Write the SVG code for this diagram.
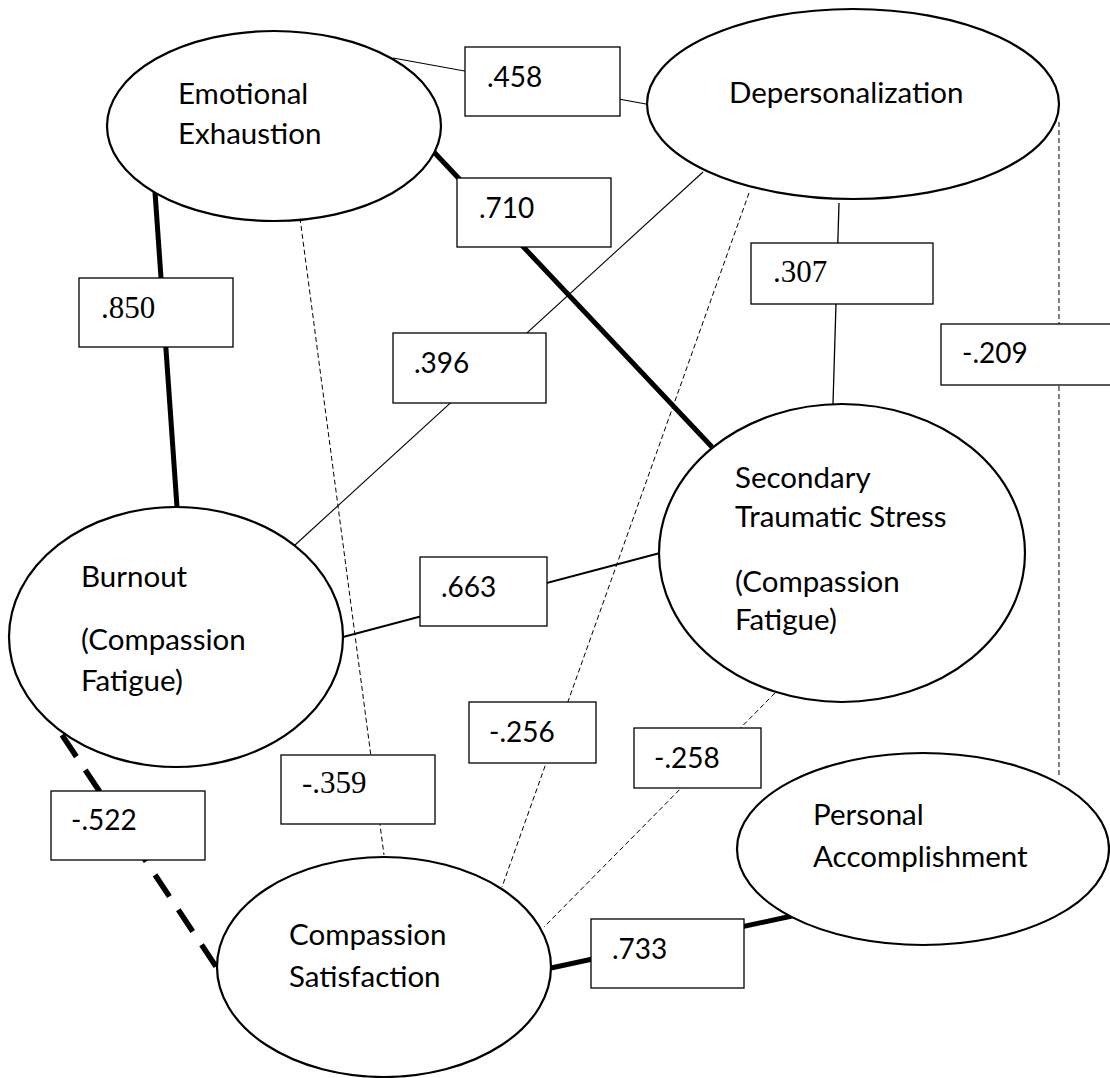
<svg xmlns="http://www.w3.org/2000/svg" width="1110" height="1078" viewBox="0 0 1110 1078">
<style>
.node{fill:#fff;stroke:#000;stroke-width:2.2}
.box{fill:#fff;stroke:#000;stroke-width:1.3}
.lbl{font-family:Lato,"Liberation Sans",sans-serif;font-size:29.5px;fill:#000}
.num{font-family:Lato,"Liberation Sans",sans-serif;font-size:28px;fill:#000}
.numt{font-family:"Liberation Serif","Times New Roman",serif;font-size:31px;fill:#000}
.thin{stroke:#000;stroke-width:1.1;fill:none}
.mid{stroke:#000;stroke-width:2;fill:none}
.thick{stroke:#000;stroke-width:5;fill:none}
.dash{stroke:#000;stroke-width:1;fill:none;stroke-dasharray:5 3}
.tdash{stroke:#000;stroke-width:5.5;fill:none;stroke-dasharray:26 16}
</style>
<rect width="1110" height="1078" fill="#fff"/>
<g id="connectors">
<line class="thin" x1="393" y1="58" x2="646" y2="104"/>
<line class="thick" x1="432" y1="150" x2="712" y2="447"/>
<line class="thick" x1="155" y1="192" x2="177" y2="507"/>
<line class="thin" x1="703" y1="172" x2="295" y2="545"/>
<line class="mid" x1="839" y1="203" x2="833" y2="404" style="stroke-width:1.3"/>
<line class="dash" x1="1059" y1="122" x2="1059" y2="778"/>
<line class="dash" x1="300" y1="218" x2="384" y2="855"/>
<line class="dash" x1="749" y1="193" x2="502" y2="887"/>
<line class="dash" x1="775" y1="693" x2="544" y2="927"/>
<line class="mid" x1="343" y1="637" x2="660" y2="553"/>
<line class="thick" x1="551" y1="968" x2="792" y2="916"/>
<line class="tdash" x1="62" y1="735" x2="217" y2="968"/>
</g>
<g id="emotional-exhaustion">
<ellipse class="node" cx="274" cy="126" rx="167" ry="95"/>
<text class="lbl" x="178" y="104">Emotional</text>
<text class="lbl" x="178" y="144">Exhaustion</text>
</g>
<g id="depersonalization">
<ellipse class="node" cx="853" cy="104" rx="206" ry="95"/>
<text class="lbl" x="729" y="103">Depersonalization</text>
</g>
<g id="secondary-traumatic-stress">
<ellipse class="node" cx="842" cy="553" rx="183" ry="149"/>
<text class="lbl" x="735" y="488">Secondary</text>
<text class="lbl" x="735" y="527">Traumatic Stress</text>
<text class="lbl" x="735" y="592">(Compassion</text>
<text class="lbl" x="735" y="630">Fatigue)</text>
</g>
<g id="burnout">
<ellipse class="node" cx="176" cy="637" rx="167" ry="130"/>
<text class="lbl" x="81" y="587">Burnout</text>
<text class="lbl" x="81" y="650">(Compassion</text>
<text class="lbl" x="81" y="691">Fatigue)</text>
</g>
<g id="compassion-satisfaction">
<ellipse class="node" cx="384" cy="967" rx="167" ry="110"/>
<text class="lbl" x="289" y="945">Compassion</text>
<text class="lbl" x="289" y="987">Satisfaction</text>
</g>
<g id="personal-accomplishment">
<ellipse class="node" cx="923" cy="849" rx="186" ry="96"/>
<text class="lbl" x="813" y="825">Personal</text>
<text class="lbl" x="813" y="867">Accomplishment</text>
</g>
<g id="label-458"><rect class="box" x="465" y="47" width="155" height="69"/><text class="num" x="487" y="87">.458</text></g>
<g id="label-710"><rect class="box" x="457" y="178" width="154" height="69"/><text class="num" x="479" y="218">.710</text></g>
<g id="label-850"><rect class="box" x="79" y="278" width="154" height="69"/><text class="numt" x="101" y="318">.850</text></g>
<g id="label-396"><rect class="box" x="393" y="333" width="153" height="70"/><text class="num" x="414" y="373">.396</text></g>
<g id="label-307"><rect class="box" x="751" y="243" width="182" height="61"/><text class="numt" x="773" y="282">.307</text></g>
<g id="label-209"><rect class="box" x="941" y="324" width="175" height="61"/><text class="num" x="962" y="363">-.209</text></g>
<g id="label-663"><rect class="box" x="420" y="557" width="127" height="69"/><text class="num" x="441" y="597">.663</text></g>
<g id="label-522"><rect class="box" x="51" y="791" width="154" height="69"/><text class="num" x="71" y="830">-.522</text></g>
<g id="label-359"><rect class="box" x="281" y="755" width="154" height="69"/><text class="numt" x="302" y="793">-.359</text></g>
<g id="label-256"><rect class="box" x="469" y="702" width="127" height="61"/><text class="num" x="489" y="742">-.256</text></g>
<g id="label-258"><rect class="box" x="634" y="728" width="127" height="60"/><text class="num" x="654" y="768">-.258</text></g>
<g id="label-733"><rect class="box" x="591" y="919" width="153" height="69"/><text class="num" x="612" y="959">.733</text></g>
</svg>
